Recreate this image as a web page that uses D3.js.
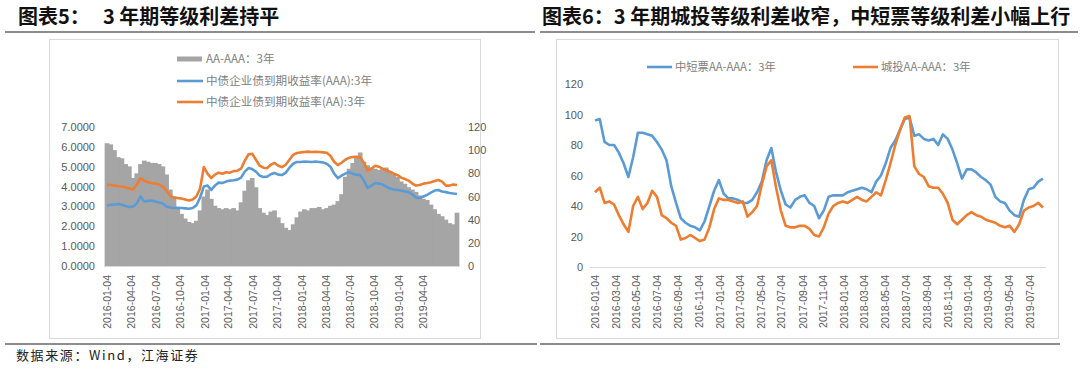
<!DOCTYPE html>
<html>
<head>
<meta charset="utf-8">
<script src="https://cdn.jsdelivr.net/npm/d3@7/dist/d3.min.js"></script>
<style>
  body { margin: 0; background: #fff; }
  svg { display: block; }
</style>
</head>
<body>
<svg id="chart" width="1080" height="372"></svg>
<script>
// ---- data (bi-weekly points from 2016-01-04) ----
const startDate = new Date(2016, 0, 4);
const endDate = new Date(2019, 7, 13);

// 图表5: AA-AAA 3年 (bp, right axis)
const spreadBp = [106,105,100,94,93,88,86,76,80,88,
  91,90,89,89,88,86,79,66,60,50,
  45,41,38,37,39,48,60,66,58,52,
  50,49,50,49,50,48,55,65,74,76,
  68,50,46,44,47,48,42,37,33,31,
  36,42,47,49,48,50,50,51,49,50,
  52,53,56,62,77,84,89,94,98,90,
  87,85,84,83,84,85,82,79,77,73,
  71,68,66,64,61,58,57,53,49,45,
  43,40,37,36,46];

// 中债企业债到期收益率(AAA):3年 (%)
const yieldAAA = [3.05,3.08,3.10,3.12,3.08,3.02,2.97,3.00,3.15,3.50,
  3.25,3.28,3.30,3.25,3.20,3.15,3.00,2.95,2.92,2.93,
  2.92,2.90,2.88,2.92,3.05,3.45,4.00,4.05,3.83,4.05,
  4.20,4.18,4.25,4.30,4.32,4.35,4.45,4.75,4.93,4.88,
  4.75,4.55,4.48,4.50,4.62,4.68,4.60,4.58,4.70,4.95,
  5.15,5.24,5.24,5.26,5.25,5.24,5.26,5.24,5.22,5.15,
  5.00,4.65,4.43,4.55,4.65,4.73,4.65,4.60,4.58,4.30,
  3.93,4.05,4.18,4.15,4.10,4.00,3.90,3.85,3.83,3.80,
  3.75,3.72,3.60,3.45,3.42,3.50,3.58,3.70,3.80,3.83,
  3.75,3.72,3.68,3.65,3.63];

// 中债企业债到期收益率(AA):3年 (%)
const yieldAA = [4.10,4.08,4.05,4.02,4.00,3.95,3.90,3.85,4.10,4.43,
  4.30,4.22,4.18,4.15,4.10,4.00,3.80,3.52,3.45,3.42,
  3.40,3.35,3.30,3.35,3.50,3.90,4.98,4.65,4.43,4.60,
  4.70,4.65,4.72,4.70,4.78,4.80,4.90,5.30,5.62,5.65,
  5.35,5.05,4.95,4.93,5.10,5.19,5.05,4.98,5.10,5.35,
  5.60,5.69,5.72,5.74,5.76,5.74,5.75,5.74,5.72,5.70,
  5.55,5.25,5.08,5.20,5.35,5.45,5.49,5.50,5.47,5.20,
  4.80,4.90,5.05,5.00,4.90,4.82,4.75,4.65,4.58,4.45,
  4.38,4.30,4.15,4.05,4.08,4.15,4.18,4.22,4.28,4.33,
  4.25,4.05,4.05,4.10,4.08];

// 图表6: 中短票AA-AAA：3年 (bp)
const mtnSpread = [96,97,82,80,80,75,68,59,72,88,
  88,87,86,82,77,70,53,42,32,29,
  27,26,24,30,40,50,57,48,45,45,
  44,42,42,44,49,56,70,78,62,50,
  41,39,44,46,47,42,40,32,37,46,
  47,47,47,49,50,51,52,51,49,56,
  60,68,78,83,90,97,98,86,87,84,
  83,84,80,87,84,77,68,58,64,64,
  62,59,57,54,46,43,42,37,34,33,
  44,51,52,56,58];

// 城投AA-AAA：3年 (bp)
const lgfvSpread = [49,52,42,43,41,34,28,23,40,46,
  38,42,50,46,34,32,29,27,18,19,
  21,19,17,18,26,38,45,44,44,43,
  42,43,33,36,40,54,66,70,52,37,
  27,26,26,27,27,25,21,20,26,35,
  40,42,43,42,44,46,44,43,46,49,
  47,57,68,80,90,98,99,66,61,59,
  53,52,52,48,42,31,28,31,34,36,
  34,33,31,30,29,27,26,27,23,28,
  37,39,40,42,39];

const ticks5 = ["2016-01-04","2016-04-04","2016-07-04","2016-10-04","2017-01-04","2017-04-04",
  "2017-07-04","2017-10-04","2018-01-04","2018-04-04","2018-07-04","2018-10-04","2019-01-04","2019-04-04"];
const ticks6 = ["2016-01-04","2016-03-04","2016-05-04","2016-07-04","2016-09-04","2016-11-04",
  "2017-01-04","2017-03-04","2017-05-04","2017-07-04","2017-09-04","2017-11-04",
  "2018-01-04","2018-03-04","2018-05-04","2018-07-04","2018-09-04","2018-11-04",
  "2019-01-04","2019-03-04","2019-05-04","2019-07-04"];
const leftTicks5 = [0,1,2,3,4,5,6,7];
const rightTicks5 = [0,20,40,60,80,100,120];
const ticks6y = [0,20,40,60,80,100,120];

const dates = d3.timeDay.range(startDate, endDate, 14);
const parse = d3.timeParse("%Y-%m-%d");

const colors = { bar: "#a5a5a5", blue: "#5b9bd5", orange: "#ed7d31", axisText: "#595959", legend: "#808080" };
const numFont = "'Liberation Sans', Arial, sans-serif";
const cjkFont = "'Noto Sans CJK SC', sans-serif";

const svg = d3.select("#chart");

// ---- titles and rules ----
const t5 = svg.append("text").attr("y", 24)
  .attr("font-family", cjkFont).attr("font-weight", 700).attr("font-size", "20px").attr("fill", "#111");
t5.append("tspan").attr("x", 18).text("图表5：");
t5.append("tspan").attr("x", 103).text("3 年期等级利差持平");

svg.append("text").attr("x", 542).attr("y", 24)
  .attr("font-family", cjkFont).attr("font-weight", 700).attr("font-size", "20px").attr("fill", "#111")
  .text("图表6：3 年期城投等级利差收窄，中短票等级利差小幅上行");

[[5, 535, 32], [540, 1078, 32], [5, 537, 344], [540, 1060, 344]].forEach(([x1, x2, y]) => {
  svg.append("line").attr("x1", x1).attr("x2", x2).attr("y1", y).attr("y2", y)
    .attr("stroke", "#666").attr("stroke-width", 1.5);
});

// chart frames
svg.append("rect").attr("x", 49.5).attr("y", 39.5).attr("width", 431).attr("height", 299)
  .attr("fill", "none").attr("stroke", "#d9d9d9");
svg.append("rect").attr("x", 556.5).attr("y", 39.5).attr("width", 502).attr("height", 299)
  .attr("fill", "none").attr("stroke", "#d9d9d9");

svg.append("text").attr("x", 16).attr("y", 360)
  .attr("font-family", cjkFont).attr("font-size", "13px").attr("letter-spacing", "1.6px").attr("fill", "#222")
  .text("数据来源：Wind，江海证券");

function styleAxis(g, size) {
  g.select(".domain").remove();
  g.selectAll("text").attr("font-family", numFont).attr("font-size", size).attr("fill", colors.axisText);
}

// ---- 图表5 ----
const x5 = d3.scaleTime().domain([dates[0], dates[dates.length - 1]]).range([107, 457]);
const y5L = d3.scaleLinear().domain([0, 7]).range([266, 127]);
const y5R = d3.scaleLinear().domain([0, 120]).range([266, 127]);
const barW = (x5.range()[1] - x5.range()[0]) / (dates.length - 1);

svg.append("g").selectAll("rect").data(spreadBp).join("rect")
  .attr("x", (d, i) => x5(dates[i]) - barW / 2 - 0.5)
  .attr("width", barW + 1)
  .attr("y", d => y5R(d))
  .attr("height", d => y5R(0) - y5R(d))
  .attr("fill", colors.bar);

svg.append("line").attr("x1", 104).attr("x2", 460).attr("y1", 266.5).attr("y2", 266.5)
  .attr("stroke", "#d9d9d9");

const line5a = d3.line().x((d, i) => x5(dates[i])).y(d => y5L(d));
svg.append("path").datum(yieldAAA).attr("d", line5a)
  .attr("fill", "none").attr("stroke", colors.blue).attr("stroke-width", 2.6).attr("stroke-linejoin", "round");
svg.append("path").datum(yieldAA).attr("d", line5a)
  .attr("fill", "none").attr("stroke", colors.orange).attr("stroke-width", 2.6).attr("stroke-linejoin", "round");

svg.append("g").attr("transform", "translate(98,0)")
  .call(d3.axisLeft(y5L).tickValues(leftTicks5).tickFormat(d3.format(".4f")).tickSize(0).tickPadding(3))
  .call(g => styleAxis(g, "11px"));
svg.append("g").attr("transform", "translate(465,0)")
  .call(d3.axisRight(y5R).tickValues(rightTicks5).tickSize(0).tickPadding(3))
  .call(g => styleAxis(g, "11px"));

svg.append("g").attr("transform", "translate(0,266)")
  .call(d3.axisBottom(x5).tickValues(ticks5.map(parse)).tickFormat(d3.timeFormat("%Y-%m-%d")).tickSize(0))
  .call(g => styleAxis(g, "10.5px"))
  .selectAll("text")
  .attr("transform", "rotate(-90)").attr("text-anchor", "end")
  .attr("x", -9).attr("y", 0).attr("dy", "0.35em");

// legend 5
const legend5 = [
  { label: "AA-AAA：3年", color: colors.bar, type: "bar", y: 59 },
  { label: "中债企业债到期收益率(AAA):3年", color: colors.blue, type: "line", y: 81 },
  { label: "中债企业债到期收益率(AA):3年", color: colors.orange, type: "line", y: 102 }
];
legend5.forEach(l => {
  if (l.type === "bar") {
    svg.append("rect").attr("x", 177).attr("y", l.y - 2.5).attr("width", 25).attr("height", 5).attr("fill", l.color);
  } else {
    svg.append("line").attr("x1", 177).attr("x2", 203).attr("y1", l.y).attr("y2", l.y)
      .attr("stroke", l.color).attr("stroke-width", 2.6);
  }
  svg.append("text").attr("x", 206).attr("y", l.y).attr("dy", "0.35em")
    .attr("font-family", cjkFont).attr("font-size", "11.6px").attr("fill", colors.legend).text(l.label);
});

// ---- 图表6 ----
const x6 = d3.scaleTime().domain([dates[0], dates[dates.length - 1]]).range([595, 1043]);
const y6 = d3.scaleLinear().domain([0, 120]).range([267, 84]);

svg.append("line").attr("x1", 590).attr("x2", 1046).attr("y1", y6(0) + 0.5).attr("y2", y6(0) + 0.5)
  .attr("stroke", "#d9d9d9");

const line6 = d3.line().x((d, i) => x6(dates[i])).y(d => y6(d));
svg.append("path").datum(mtnSpread).attr("d", line6)
  .attr("fill", "none").attr("stroke", colors.blue).attr("stroke-width", 2.6).attr("stroke-linejoin", "round");
svg.append("path").datum(lgfvSpread).attr("d", line6)
  .attr("fill", "none").attr("stroke", colors.orange).attr("stroke-width", 2.6).attr("stroke-linejoin", "round");

svg.append("g").attr("transform", "translate(587,0)")
  .call(d3.axisLeft(y6).tickValues(ticks6y).tickSize(0).tickPadding(4))
  .call(g => styleAxis(g, "11px"));

svg.append("g").attr("transform", `translate(0,${y6(0)})`)
  .call(d3.axisBottom(x6).tickValues(ticks6.map(parse)).tickFormat(d3.timeFormat("%Y-%m-%d")).tickSize(0))
  .call(g => styleAxis(g, "10.5px"))
  .selectAll("text")
  .attr("transform", "rotate(-90)").attr("text-anchor", "end")
  .attr("x", -8).attr("y", 0).attr("dy", "0.35em");

const legend6 = [
  { label: "中短票AA-AAA：3年", color: colors.blue, x: 647 },
  { label: "城投AA-AAA：3年", color: colors.orange, x: 853 }
];
legend6.forEach(l => {
  svg.append("line").attr("x1", l.x).attr("x2", l.x + 25).attr("y1", 67).attr("y2", 67)
    .attr("stroke", l.color).attr("stroke-width", 2.6);
  svg.append("text").attr("x", l.x + 28).attr("y", 67).attr("dy", "0.35em")
    .attr("font-family", cjkFont).attr("font-size", "11.3px").attr("fill", colors.legend).text(l.label);
});
</script>
</body>
</html>
